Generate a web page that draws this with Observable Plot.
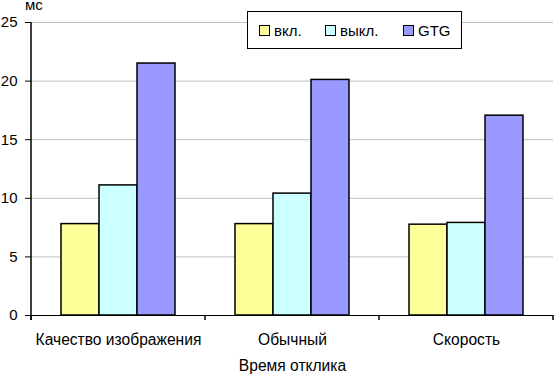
<!DOCTYPE html>
<html>
<head>
<meta charset="utf-8">
<script src="https://cdn.jsdelivr.net/npm/d3@7"></script>
<script src="https://cdn.jsdelivr.net/npm/@observablehq/plot@0.6"></script>
<style>
  body { margin: 0; background: white; font-family: Arial, "Liberation Sans", sans-serif; }
  #wrap { position: relative; width: 554px; height: 374px; }
  #unit { position: absolute; left: 25px; top: 0px; font-size: 15px; line-height: 9px; }
  #legend { position: absolute; left: 247px; top: 11px; width: 213px; height: 36px;
    border: 1px solid black; background: white; font-size: 15px; }
  .item { position: absolute; top: 10px; display: flex; align-items: center; }
  .sw { width: 9px; height: 9px; border: 1px solid black; margin-right: 4px; }
</style>
</head>
<body>
<div id="wrap"></div>
<script>
const categories = ["Качество изображения", "Обычный", "Скорость"];
const series = ["вкл.", "выкл.", "GTG"];
const vkl = [7.8, 7.8, 7.75];
const vykl = [11.1, 10.4, 7.9];
const gtg = [21.5, 20.1, 17.05];
const yTicks = [0, 5, 10, 15, 20, 25];
const colors = ["#FFFF99", "#CCFFFF", "#9999FF"];
const xTitle = "Время отклика";
const unit = "мс";

const seriesValues = [vkl, vykl, gtg];
const data = categories.flatMap((c, i) =>
  series.map((s, j) => ({category: c, series: s, value: seriesValues[j][i]})));

const chart = Plot.plot({
  width: 554, height: 374,
  marginLeft: 31, marginRight: 1, marginTop: 22, marginBottom: 59,
  style: {fontFamily: "Arial, 'Liberation Sans', sans-serif", fontSize: "15px", background: "white", color: "black", overflow: "visible"},
  fx: {domain: categories, padding: 0, axis: null},
  x: {domain: series, paddingInner: 0, paddingOuter: 0.77, axis: null},
  y: {domain: [0, 25], axis: null},
  color: {domain: series, range: colors},
  marks: [
    Plot.ruleY(yTicks.filter(t => t > 0), {stroke: "#c0c0c0", strokeOpacity: 1}),
    Plot.barY(data, {fx: "category", x: "series", y: "value", fill: "series", stroke: "black", strokeWidth: 1.5, inset: 0}),
    Plot.ruleY([0], {stroke: "black", strokeWidth: 1.2}),
    Plot.axisY({ticks: yTicks, tickSize: 6, tickPadding: 8, label: null, fontSize: 15, stroke: "black"}),
    Plot.axisFx({anchor: "bottom", tickSize: 0, tickPadding: 18, label: xTitle, labelAnchor: "center", labelOffset: 55, fontSize: 15.6})
  ]
});

document.getElementById("wrap").appendChild(chart);

// y axis line and category boundary ticks, positioned via the plot's scales
const svg = d3.select(chart);
const fx = chart.scale("fx");
const y = chart.scale("y");
const y0 = y.apply(0), yTop = y.apply(25);
const left = fx.apply(categories[0]);
svg.append("line").attr("x1", left).attr("x2", left).attr("y1", yTop).attr("y2", y0 + 5)
  .attr("stroke", "black").attr("stroke-width", 1.5);
const bounds = categories.map(c => fx.apply(c)).concat([fx.apply(categories[categories.length - 1]) + fx.bandwidth]);
bounds.forEach(b => {
  svg.append("line").attr("x1", b).attr("x2", b).attr("y1", y0).attr("y2", y0 + 5)
    .attr("stroke", "black").attr("stroke-width", 1.5);
});

// unit label
const u = document.createElement("div");
u.id = "unit"; u.textContent = unit;
document.getElementById("wrap").appendChild(u);

// legend
const lg = document.createElement("div");
lg.id = "legend";
const offsets = [11, 77, 155];
series.forEach((s, i) => {
  const it = document.createElement("div");
  it.className = "item"; it.style.left = offsets[i] + "px";
  const sw = document.createElement("div");
  sw.className = "sw"; sw.style.background = colors[i];
  const t = document.createElement("span"); t.textContent = s;
  it.appendChild(sw); it.appendChild(t); lg.appendChild(it);
});
document.getElementById("wrap").appendChild(lg);
</script>
</body>
</html>
